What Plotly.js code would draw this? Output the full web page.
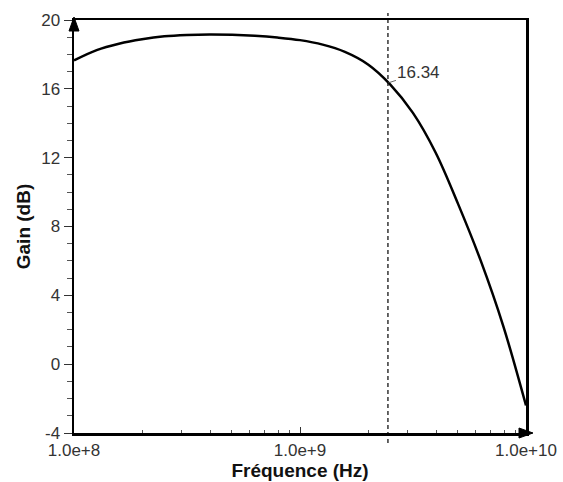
<!DOCTYPE html>
<html>
<head>
<meta charset="utf-8">
<script src="https://cdn.plot.ly/plotly-3.0.1.min.js"></script>
<style>html,body{margin:0;padding:0;background:#fff;}#chart{width:563px;height:482px;}</style>
</head>
<body>
<div id="chart"></div>
<script>
// Frequency (Hz) and gain (dB)
const freqHz = [1.00e8, 1.26e8, 1.58e8, 2.00e8, 2.51e8, 3.16e8, 3.98e8, 5.01e8, 6.31e8, 7.94e8,
                1.00e9, 1.26e9, 1.58e9, 2.00e9, 2.51e9, 3.16e9, 3.98e9, 5.01e9, 6.31e9, 7.94e9, 1.00e10];
const gainDb = [17.65, 18.25, 18.62, 18.88, 19.05, 19.13, 19.16, 19.14, 19.08, 18.98,
                18.83, 18.57, 18.15, 17.42, 16.25, 14.6, 12.3, 9.3, 6.0, 2.2, -2.4];
const markerFreq = 2.45e9;
const markerGain = 16.34;
const markerLabel = "16.34";
const xTickVals = [1e8, 1e9, 1e10];
const xTickText = ["1.0e+8", "1.0e+9", "1.0e+10"];
const yTickVals = [-4, 0, 4, 8, 12, 16, 20];
const yTickText = ["-4", "0", "4", "8", "12", "16", "20"];

const W = 563, H = 482, L = 74, R = 37, T = 20, B = 49;
const pw = W - L - R, ph = H - T - B;
const px = v => v / pw, py = v => v / ph;
const FAM = 'Liberation Sans, Arial, Helvetica, sans-serif';

const trace = {
  x: freqHz, y: gainDb, type: 'scatter', mode: 'lines',
  line: {color: '#000', width: 2.5, shape: 'spline', smoothing: 1},
  hoverinfo: 'skip'
};

const tickFont = {family: FAM, size: 17, color: '#333'};
const layout = {
  width: W, height: H,
  margin: {l: L, r: R, t: T, b: B},
  paper_bgcolor: '#fff', plot_bgcolor: '#fff',
  showlegend: false,
  font: {family: FAM},
  xaxis: {
    type: 'log', range: [8, 10],
    tickmode: 'array', tickvals: xTickVals, ticktext: xTickText,
    ticks: 'inside', ticklen: 6, tickwidth: 1, tickcolor: '#333',
    minor: {dtick: 'D1', ticks: 'inside', ticklen: 3, tickcolor: '#555', showgrid: false},
    showgrid: false, zeroline: false,
    showline: true, linecolor: '#000', linewidth: 2.5, mirror: true,
    tickfont: tickFont,
    title: {text: 'Fréquence (Hz)', font: {family: FAM, size: 19, color: '#111', weight: 'bold'}, standoff: 2}
  },
  yaxis: {
    range: [-4, 20],
    tickmode: 'array', tickvals: yTickVals, ticktext: yTickText,
    ticks: 'outside', ticklen: 8, tickwidth: 1, tickcolor: '#333',
    minor: {dtick: 1, ticks: 'outside', ticklen: 5, tickcolor: '#555', showgrid: false},
    showgrid: false, zeroline: false,
    showline: true, linecolor: '#000', linewidth: 2.5, mirror: true,
    tickfont: tickFont,
    title: {text: 'Gain (dB)', font: {family: FAM, size: 19, color: '#111', weight: 'bold'}, standoff: 6}
  },
  shapes: [
    {type: 'line', xref: 'x', yref: 'paper', x0: markerFreq, x1: markerFreq, y0: -py(10), y1: 1 + py(7),
     line: {color: '#000', width: 1.2, dash: '4px,3px'}},
    {type: 'path', xref: 'paper', yref: 'paper',
     path: `M 0 ${1 + py(3)} L ${-px(5)} ${1 - py(11)} L ${px(5)} ${1 - py(11)} Z`,
     fillcolor: '#000', line: {color: '#000', width: 1}},
    {type: 'path', xref: 'paper', yref: 'paper',
     path: `M ${1 + px(7)} 0 L ${1 - px(7)} ${py(5)} L ${1 - px(7)} ${-py(5)} Z`,
     fillcolor: '#000', line: {color: '#000', width: 1}}
  ],
  annotations: [
    {x: Math.log10(markerFreq), y: markerGain, xref: 'x', yref: 'y',
     text: markerLabel, showarrow: true, arrowhead: 0, arrowwidth: 0.8, arrowcolor: '#444',
     ax: 31, ay: -10, font: {family: FAM, size: 17, color: '#333'}}
  ]
};

Plotly.newPlot('chart', [trace], layout, {displayModeBar: false, staticPlot: true});
</script>
</body>
</html>
